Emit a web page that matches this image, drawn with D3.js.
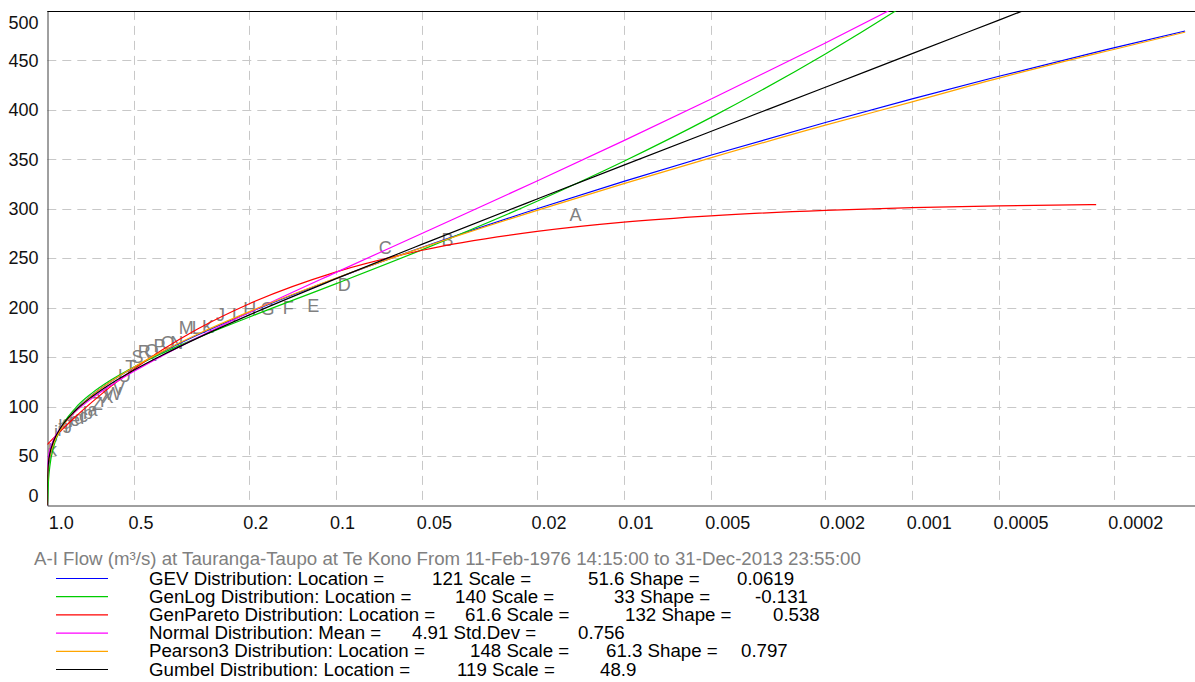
<!DOCTYPE html>
<html>
<head>
<meta charset="utf-8">
<script src="https://cdn.jsdelivr.net/npm/d3@7"></script>
<style>
  body{margin:0;background:#fff;}
  svg{display:block;font-family:"Liberation Sans",Arial,sans-serif;}
</style>
</head>
<body>
<svg id="chart" width="1195" height="682"></svg>
<script>
// ---------- DATA --------------------------------------------------------
// exceedance probabilities where the fitted curves were read
const PROBS = [1, 0.9999, 0.999, 0.99, 0.98, 0.95, 0.9, 0.8, 0.7, 0.6, 0.5, 0.4, 0.3, 0.2,
               0.1, 0.05, 0.02, 0.01, 0.005, 0.002, 0.001, 0.0005, 0.00023, 0.0002, 0.000113];

// flow (m³/s) of each fitted distribution at PROBS (null = not drawn)
const GEV       = [0, 0, 15.1, 38.4, 47.6, 62.4, 76.8, 96.1, 111.4, 125.5, 139.7, 154.9, 172.5, 194.9,
                   229.4, 261.0, 299.9, 327.6, 354.0, 387.2, 411.0, 433.9, 458.3, 462.6, 479.7];
const GENLOG    = [0, 0, 0, 26.1, 39.4, 59.4, 77.0, 98.2, 113.5, 127.0, 140.0, 153.7, 169.6, 190.2,
                   224.0, 258.6, 307.5, 348.0, 392.1, 456.5, 510.7, 569.9, null, null, null];
const GENPARETO = [61.6, 61.6, 61.7, 62.9, 64.3, 68.3, 75.1, 89.4, 104.4, 120.6, 138.0, 157.1, 178.6, 203.7,
                   235.9, 258.0, 277.0, 286.4, 292.8, 298.3, 301.0, 302.8, 304.2, null, null];
const NORMAL    = [0, 27.4, 35.9, 49.9, 56.1, 66.9, 78.2, 94.5, 108.3, 121.6, 135.6, 151.2, 169.9, 194.8,
                   235.4, 275.2, 328.0, 368.8, 410.6, 467.6, 512.2, 558.3, null, null, null];
const PEARSON3  = [0, 12.1, 22.9, 41.1, 49.1, 62.7, 76.6, 95.7, 111.1, 125.5, 140.0, 155.5, 173.3, 195.7,
                   229.7, 260.6, 298.3, 325.4, 351.4, 384.5, 408.0, 432.0, 456.8, 461.0, 478.5];
const GUMBEL    = [0, 10.4, 24.5, 44.3, 52.3, 65.3, 78.2, 95.7, 109.9, 123.3, 136.9, 151.8, 169.4, 192.4,
                   229.0, 264.2, 309.8, 344.0, 378.0, 422.8, 456.8, 490.7, 528.7, 535.5, null];

const SERIES_NAMES  = ['GEV', 'GenLog', 'GenPareto', 'Normal', 'Pearson3', 'Gumbel'];
const SERIES_VALUES = [GEV, GENLOG, GENPARETO, NORMAL, PEARSON3, GUMBEL];
const SERIES_COLORS = ['#0000ff', '#00cc00', '#ff0000', '#ff00ff', '#ffa500', '#000000'];

// annual maxima, labelled A..Z, a..l, at their plotting positions
const PEAK_LABELS = 'ABCDEFGHIJKLMNOPQRSTUVWXYZabcdefghijkl'.split('');
const PEAK_PROBS  = [0.0147, 0.0409, 0.0672, 0.0934, 0.1196, 0.1459, 0.1721, 0.1983, 0.2246, 0.2508,
                     0.2770, 0.3033, 0.3295, 0.3557, 0.3820, 0.4082, 0.4344, 0.4607, 0.4869, 0.5131,
                     0.5393, 0.5656, 0.5918, 0.6180, 0.6443, 0.6705, 0.6967, 0.7230, 0.7492, 0.7754,
                     0.8017, 0.8279, 0.8541, 0.8804, 0.9066, 0.9328, 0.9591, 0.9853];
const PEAK_FLOWS  = [294.6, 268.4, 261.0, 222.9, 201.6, 200.3, 199.3, 199.0, 193.5, 193.0,
                     181, 180, 179.5, 165, 164.5, 162, 157, 156, 151, 140,
                     131, 118, 113, 110, 106, 103, 97, 94, 91, 89,
                     87, 86, 84, 81, 77, 75, 56, 51];

// axes
const X_TICKS       = [1, 0.5, 0.2, 0.1, 0.05, 0.02, 0.01, 0.005, 0.002, 0.001, 0.0005, 0.0002];
const X_TICK_LABELS = ['1.0', '0.5', '0.2', '0.1', '0.05', '0.02', '0.01', '0.005', '0.002', '0.001', '0.0005', '0.0002'];
const Y_TICKS       = [0, 50, 100, 150, 200, 250, 300, 350, 400, 450, 500];

// legend
const LEGEND_TITLE = 'A-I Flow (m³/s) at Tauranga-Taupo at Te Kono From 11-Feb-1976 14:15:00 to 31-Dec-2013 23:55:00';
const LEGEND_TEXT = [
  ['GEV Distribution: Location =', '121', ' Scale =', '51.6', ' Shape =', '0.0619'],
  ['GenLog Distribution: Location =', '140', ' Scale =', '33', ' Shape =', '-0.131'],
  ['GenPareto Distribution: Location =', '61.6', ' Scale =', '132', ' Shape =', '0.538'],
  ['Normal Distribution: Mean =', '4.91', ' Std.Dev =', '0.756'],
  ['Pearson3 Distribution: Location =', '148', ' Scale =', '61.3', ' Shape =', '0.797'],
  ['Gumbel Distribution: Location =', '119', ' Scale =', '48.9']
];

// ---------- LAYOUT ------------------------------------------------------
const W = 1195, H = 682;
const PLOT = {left:47.3, top:10.9, bottom:505.4, right:W};
const LEG_NUM_X = [[432, 588, 737], [455, 614, 755], [465, 625, 773], [412, 578], [470, 606, 741], [457, 600]];

const svg = d3.select('#chart');
const x = d3.scaleLog().domain([1, 0.0001]).range([PLOT.left, PLOT.left + 125.2 * Math.log(10000)]);
const y = d3.scaleLinear().domain([0, 500]).range([PLOT.bottom, PLOT.top]);
const crisp = v => Math.round(v) + 0.5;

svg.append('defs').append('clipPath').attr('id', 'plotClip')
  .append('rect')
  .attr('x', PLOT.left).attr('y', PLOT.top)
  .attr('width', PLOT.right - PLOT.left).attr('height', PLOT.bottom - PLOT.top);

// ---------- GRID --------------------------------------------------------
const grid = svg.append('g')
  .attr('stroke', '#c8c8c8').attr('stroke-width', 1).attr('stroke-dasharray', '9,6');
grid.selectAll('line.v').data(X_TICKS.slice(1)).join('line').attr('class', 'v')
  .attr('x1', d => crisp(x(d))).attr('x2', d => crisp(x(d)))
  .attr('y1', PLOT.top).attr('y2', PLOT.bottom);
grid.selectAll('line.h').data(Y_TICKS.slice(1, -1)).join('line').attr('class', 'h')
  .attr('y1', d => crisp(y(d))).attr('y2', d => crisp(y(d)))
  .attr('x1', PLOT.left).attr('x2', PLOT.right);

// ---------- AXES --------------------------------------------------------
const xAxis = svg.append('g').attr('transform', `translate(0,${crisp(PLOT.bottom)})`)
  .call(d3.axisBottom(x).tickValues(X_TICKS).tickFormat((d, i) => X_TICK_LABELS[i])
    .tickSize(0).tickPadding(11));
xAxis.select('.domain').attr('stroke', '#404040');
xAxis.selectAll('text')
  .attr('font-size', 18).attr('fill', '#111').attr('font-family', null)
  .attr('text-anchor', 'start')
  .attr('dx', (d, i) => i === 0 ? 1 : -6);

const yAxis = svg.append('g').attr('transform', `translate(${crisp(PLOT.left)},0)`)
  .call(d3.axisLeft(y).tickValues(Y_TICKS).tickSize(0).tickPadding(9));
yAxis.select('.domain').attr('stroke', '#404040');
yAxis.selectAll('text')
  .attr('font-size', 18).attr('fill', '#111').attr('font-family', null)
  .attr('dy', d => d === 0 ? '-0.23em' : d === 500 ? '1.0em' : '0.32em');

// top border
svg.append('line')
  .attr('x1', PLOT.left).attr('x2', PLOT.right)
  .attr('y1', crisp(PLOT.top)).attr('y2', crisp(PLOT.top))
  .attr('stroke', '#000');

// ---------- DATA LABELS -------------------------------------------------
const plotG = svg.append('g').attr('clip-path', 'url(#plotClip)');
plotG.append('g').selectAll('text').data(PEAK_LABELS).join('text')
  .attr('x', (d, i) => x(PEAK_PROBS[i]))
  .attr('y', (d, i) => y(PEAK_FLOWS[i]))
  .attr('text-anchor', 'middle').attr('dy', '0.36em')
  .attr('font-size', 18).attr('fill', '#808080')
  .text(d => d);

// ---------- CURVES ------------------------------------------------------
const line = d3.line()
  .defined(d => d[1] != null)
  .x(d => x(d[0])).y(d => y(d[1]))
  .curve(d3.curveMonotoneX);

plotG.append('g').selectAll('path').data(SERIES_VALUES).join('path')
  .attr('fill', 'none')
  .attr('stroke', (d, i) => SERIES_COLORS[i])
  .attr('stroke-width', 1.2)
  .attr('d', vals => line(PROBS.map((p, j) => [p, vals[j]])));

// ---------- LEGEND ------------------------------------------------------
svg.append('text')
  .attr('x', 34).attr('y', 558).attr('dy', '0.35em')
  .attr('font-size', 18.7).attr('fill', '#808080')
  .text(LEGEND_TITLE);

const legRows = svg.append('g').selectAll('g').data(LEGEND_TEXT).join('g')
  .attr('transform', (d, i) => `translate(0,${578 + i * 18.2})`);
legRows.append('line')
  .attr('x1', 56).attr('x2', 108).attr('y1', 0.5).attr('y2', 0.5)
  .attr('stroke', (d, i) => SERIES_COLORS[i]).attr('stroke-width', 1.2);
legRows.append('text')
  .attr('x', 149).attr('dy', '0.35em')
  .attr('font-size', 18.7).attr('fill', '#000')
  .attr('xml:space', 'preserve')
  .each(function (parts, r) {
    const t = d3.select(this);
    parts.forEach((s, k) => {
      const ts = t.append('tspan').text(s);
      if (k % 2 === 1) ts.attr('x', LEG_NUM_X[r][(k - 1) / 2]);
    });
  });
</script>
</body>
</html>
